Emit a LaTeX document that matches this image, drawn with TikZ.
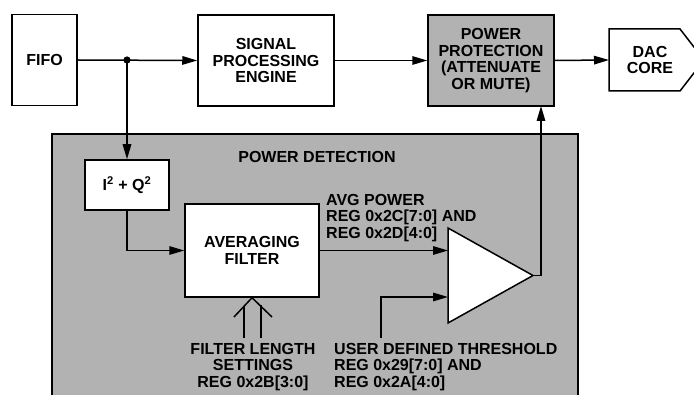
\documentclass[tikz,border=0pt]{standalone}
\usepackage{fontspec}
\setmainfont{Liberation Sans}
\usetikzlibrary{arrows.meta}
\begin{document}
\begin{tikzpicture}[x=1pt,y=-1pt,
  every node/.style={font=\fontsize{16}{16.6}\selectfont\bfseries, inner sep=0pt},
  blk/.style={draw, line width=1.5pt, fill=white, align=center},
  gblk/.style={blk, fill=black!30},
  conn/.style={line width=1.5pt},
  arr/.style={conn, -{Triangle[length=15pt,width=8.5pt]}},
  lbl/.style={align=left, anchor=west}]
\useasboundingbox (0,0) rectangle (694,395);
\begin{scope}
\clip (0,0) rectangle (694,395);
% power detection region
\draw[line width=1.5pt, fill=black!30] (52,134) rectangle (578,420);
% DAC core pentagon
\draw[line width=1.5pt, fill=white] (609,29) -- (680,29) -- (704,60) -- (680,91) -- (609,91) -- cycle;
\end{scope}
\node (dac) at (650,60) [align=center] {DAC\\CORE};
\coordinate (dacin) at (609,60);

\node[blk, minimum width=65pt, minimum height=91pt] (fifo) at (44.5,60) {FIFO};
\node[blk, minimum width=136pt, minimum height=91pt] (spe) at (266,60.5) {SIGNAL\\PROCESSING\\ENGINE};
\node[gblk, minimum width=126pt, minimum height=91pt] (pp) at (491,60.5) {POWER\\PROTECTION\\(ATTENUATE\\OR MUTE)};
\node[blk, minimum width=84pt, minimum height=50pt] (iq) at (127,185) {I\textsuperscript{2} + Q\textsuperscript{2}};
\node[blk, minimum width=134pt, minimum height=93pt] (avg) at (252,250.5) {AVERAGING\\FILTER};

\node (pdt) at (317,157) {POWER DETECTION};
\node[lbl] (avgp) at (326,218) {AVG POWER\\REG 0x2C[7:0] AND\\REG 0x2D[4:0]};
\node[align=center] (fls) at (253,367) {FILTER LENGTH\\SETTINGS\\REG 0x2B[3:0]};
\node[lbl] (thrt) at (334,367) {USER DEFINED THRESHOLD\\REG 0x29[7:0] AND\\REG 0x2A[4:0]};

% comparator triangle
\draw[line width=1.5pt, fill=white] (448,228) -- (533,275.5) -- (448,323) -- cycle;
\coordinate (tin1) at (448,250.5);
\coordinate (tin2) at (448,297);
\coordinate (tout) at (533,275.5);
\coordinate (ppin) at (541,106);
\coordinate (thr) at (381,338);
\coordinate (junc) at (127,60);

% connectors
\draw[arr] (fifo.east) -- (spe.west);
\fill (junc) circle (3.6pt);
\draw[arr] (junc) -- (iq.north);
\draw[arr] (spe.east) -- (pp.west);
\draw[arr] (pp.east) -- (dacin);
\draw[arr] (iq.south) |- (avg.west);
\draw[arr] (avg.east) -- (tin1);
\draw[arr] (thr) |- (tin2);
\draw[arr] (tout) -| (ppin);

% filter length bus arrow
\coordinate (fla) at (244,338);
\coordinate (flb) at (261,338);
\draw[conn] (fla) -- ++(0,-32);
\draw[conn] (flb) -- ++(0,-33);
\draw[conn, line join=miter] (234,317) -- (avg.south) -- (272,317);
\end{tikzpicture}
\end{document}
